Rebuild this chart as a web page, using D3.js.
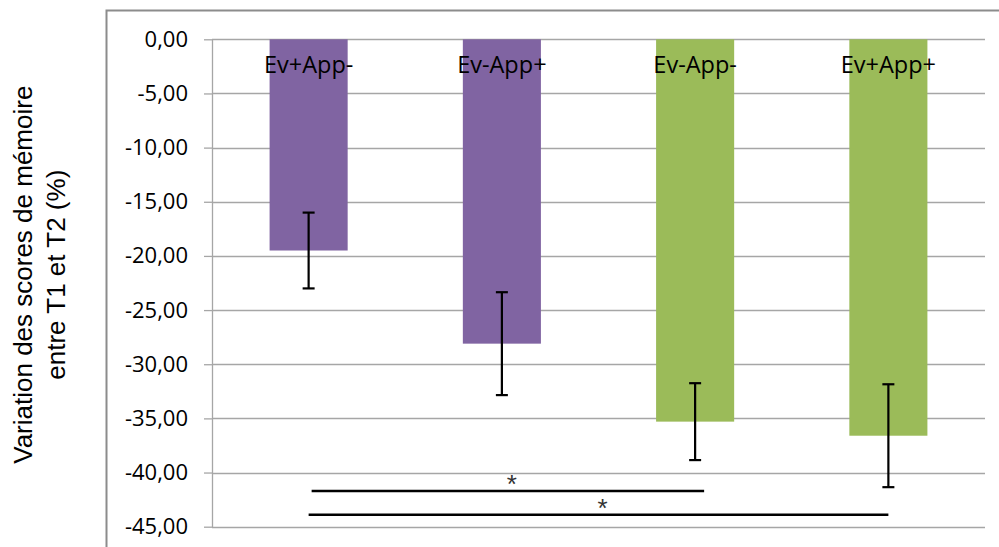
<!DOCTYPE html>
<html>
<head>
<meta charset="utf-8">
<script src="https://cdn.jsdelivr.net/npm/d3@7"></script>
<style>
  html, body { margin: 0; padding: 0; background: #fff; }
  svg { display: block; }
</style>
</head>
<body>
<svg id="chart" width="999" height="547"></svg>
<script>
// ---- data ----
const categories = ["Ev+App-", "Ev-App+", "Ev-App-", "Ev+App+"];
const values = [-19.5, -28.1, -35.3, -36.6];
const errors = [3.5, 4.75, 3.55, 4.75];
const barColors = ["#8064A2", "#8064A2", "#9BBB59", "#9BBB59"];
const yTicks = [0, -5, -10, -15, -20, -25, -30, -35, -40, -45];
const sigFrom = [0, 0];
const sigTo = [2, 3];
const sigY = [-41.7, -43.9];
const sigLabels = ["*", "*"];
const yTitleLines = ["Variation des scores de mémoire", "entre T1 et T2 (%)"];

// ---- layout ----
const svg = d3.select("#chart");
const plot = { left: 212, right: 985, top: 39.3, bottom: 526.7 };

const x = d3.scaleBand()
  .domain(categories)
  .range([plot.left, plot.right])
  .paddingInner(0.596)
  .paddingOuter(0.298);

const y = d3.scaleLinear()
  .domain([0, -45])
  .range([plot.top, plot.bottom]);

const locale = d3.formatLocale({ decimal: ",", thousands: " ", grouping: [3], currency: ["", "€"], minus: "-" });
const fmt = locale.format(".2f");

// outer frame
svg.append("rect")
  .attr("x", 106.5).attr("y", 10.5)
  .attr("width", 1000).attr("height", 600)
  .attr("fill", "none")
  .attr("stroke", "#8c8c8c")
  .attr("stroke-width", 2);

// gridlines
svg.append("g").selectAll("line")
  .data(yTicks)
  .join("line")
  .attr("x1", plot.left).attr("x2", plot.right)
  .attr("y1", d => Math.round(y(d)) + 0.5).attr("y2", d => Math.round(y(d)) + 0.5)
  .attr("stroke", "#a6a6a6")
  .attr("stroke-width", 1.3);

// y axis
const yAxis = svg.append("g")
  .attr("transform", `translate(${plot.left},0)`)
  .call(d3.axisLeft(y).tickValues(yTicks).tickSize(8).tickSizeOuter(0).tickPadding(16).tickFormat(fmt));
yAxis.select(".domain").attr("stroke", "#a6a6a6").attr("stroke-width", 1.3);
yAxis.selectAll(".tick line").attr("stroke", "#a6a6a6").attr("stroke-width", 1.3);
yAxis.selectAll(".tick text")
  .attr("font-family", "'Open Sans', sans-serif")
  .attr("font-size", 22)
  .attr("fill", "#000");

// bars
svg.append("g").selectAll("rect")
  .data(categories)
  .join("rect")
  .attr("x", d => x(d))
  .attr("y", y(0))
  .attr("width", x.bandwidth())
  .attr("height", (d, i) => y(values[i]) - y(0))
  .attr("fill", (d, i) => barColors[i]);

// bar labels
svg.append("g").selectAll("text")
  .data(categories)
  .join("text")
  .attr("x", d => x(d) + x.bandwidth() / 2)
  .attr("y", y(0) + 34)
  .attr("text-anchor", "middle")
  .attr("font-family", "'Open Sans', sans-serif")
  .attr("font-size", 23.5)
  .attr("fill", "#000")
  .text(d => d);

// error bars
const eb = svg.append("g").attr("stroke", "#000").attr("stroke-width", 2.2);
categories.forEach((c, i) => {
  const cx = x(c) + x.bandwidth() / 2;
  const yHi = y(values[i] + errors[i]);
  const yLo = y(values[i] - errors[i]);
  eb.append("line").attr("x1", cx).attr("x2", cx).attr("y1", yHi).attr("y2", yLo);
  eb.append("line").attr("x1", cx - 6).attr("x2", cx + 6).attr("y1", yHi).attr("y2", yHi);
  eb.append("line").attr("x1", cx - 6).attr("x2", cx + 6).attr("y1", yLo).attr("y2", yLo);
});

// significance lines
const sg = svg.append("g");
const endAdj = [9, 0];
const startAdj = [3, 0];
sigFrom.forEach((f, i) => {
  const x1 = x(categories[f]) + x.bandwidth() / 2 + startAdj[i];
  const x2 = x(categories[sigTo[i]]) + x.bandwidth() / 2 + endAdj[i];
  const yy = y(sigY[i]);
  sg.append("line")
    .attr("x1", x1).attr("x2", x2)
    .attr("y1", yy).attr("y2", yy)
    .attr("stroke", "#000").attr("stroke-width", 2.6);
  sg.append("text")
    .attr("x", (x1 + x2) / 2 + 4)
    .attr("y", yy + 2)
    .attr("text-anchor", "middle")
    .attr("font-family", "'Liberation Sans', Arial, sans-serif")
    .attr("font-size", 26)
    .attr("fill", "#333")
    .text(sigLabels[i]);
});

// y title
const title = svg.append("text")
  .attr("transform", "translate(0,274.7) rotate(-90)")
  .attr("text-anchor", "middle")
  .attr("font-family", "'Liberation Sans', Arial, sans-serif")
  .attr("font-size", 26)
  .attr("fill", "#000");
title.selectAll("tspan")
  .data(yTitleLines)
  .join("tspan")
  .attr("x", 0)
  .attr("y", (d, i) => 32 + i * 33)
  .text(d => d);
</script>
</body>
</html>
